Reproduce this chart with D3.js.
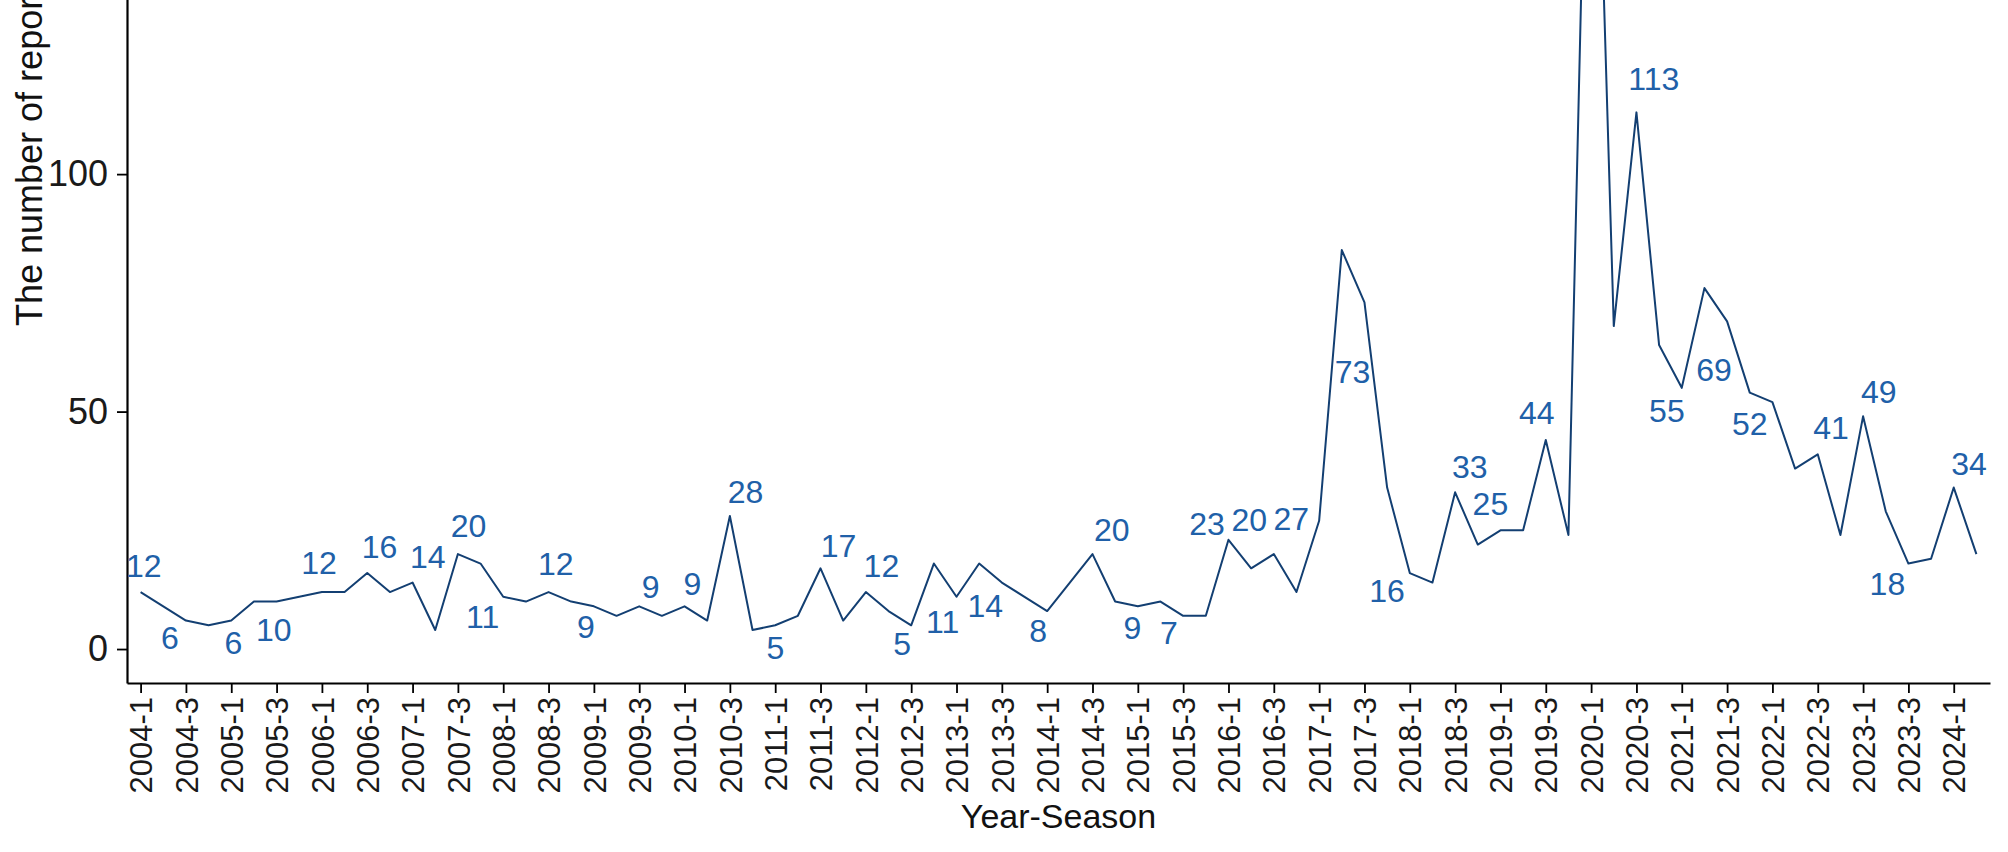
<!DOCTYPE html>
<html lang="en">
<head>
<meta charset="utf-8">
<title>Reports by Year-Season</title>
<script src="https://cdn.jsdelivr.net/npm/d3@7"></script>
<style>
body { margin: 0; background: #fff; }
svg { display: block; font-family: "Liberation Sans", Arial, sans-serif; }
</style>
</head>
<body>
<script>
// year-season categories, 2004-1 .. 2024-2
var categories = [
  "2004-1","2004-2","2004-3","2004-4","2005-1","2005-2","2005-3","2005-4",
  "2006-1","2006-2","2006-3","2006-4","2007-1","2007-2","2007-3","2007-4",
  "2008-1","2008-2","2008-3","2008-4","2009-1","2009-2","2009-3","2009-4",
  "2010-1","2010-2","2010-3","2010-4","2011-1","2011-2","2011-3","2011-4",
  "2012-1","2012-2","2012-3","2012-4","2013-1","2013-2","2013-3","2013-4",
  "2014-1","2014-2","2014-3","2014-4","2015-1","2015-2","2015-3","2015-4",
  "2016-1","2016-2","2016-3","2016-4","2017-1","2017-2","2017-3","2017-4",
  "2018-1","2018-2","2018-3","2018-4","2019-1","2019-2","2019-3","2019-4",
  "2020-1","2020-2","2020-3","2020-4","2021-1","2021-2","2021-3","2021-4",
  "2022-1","2022-2","2022-3","2022-4","2023-1","2023-2","2023-3","2023-4",
  "2024-1","2024-2"
];

// number of reports per season
var reports = [
  12, 9, 6, 5, 6, 10, 10, 11,
  12, 12, 16, 12, 14, 4, 20, 18,
  11, 10, 12, 10, 9, 7, 9, 7,
  9, 6, 28, 4, 5, 7, 17, 6,
  12, 8, 5, 18, 11, 18, 14, 11,
  8, 14, 20, 10, 9, 10, 7, 7,
  23, 17, 20, 12, 27, 84, 73, 34,
  16, 14, 33, 22, 25, 25, 44, 24,
  227, 68, 113, 64, 55, 76, 69, 54,
  52, 38, 41, 24, 49, 29, 18, 19,
  34, 20
];

var tickLabels = [
  "2004-1","2004-3","2005-1","2005-3","2006-1","2006-3","2007-1","2007-3",
  "2008-1","2008-3","2009-1","2009-3","2010-1","2010-3","2011-1","2011-3",
  "2012-1","2012-3","2013-1","2013-3","2014-1","2014-3","2015-1","2015-3",
  "2016-1","2016-3","2017-1","2017-3","2018-1","2018-3","2019-1","2019-3",
  "2020-1","2020-3","2021-1","2021-3","2022-1","2022-3","2023-1","2023-3",
  "2024-1"
];

var yTicks = [0, 50, 100];

var width = 2008, height = 852;
var left = 127, right = 1990, bottom = 683, panelTop = -482;

var svg = d3.select("body").append("svg")
  .attr("width", width)
  .attr("height", height);

svg.append("rect").attr("width", width).attr("height", height).attr("fill", "#fff");

var x = d3.scalePoint()
  .domain(categories)
  .range([left, right])
  .padding(0.6);

var yMin = d3.min(reports), yMax = d3.max(reports), pad = (yMax - yMin) * 0.05;
var y = d3.scaleLinear()
  .domain([yMin - pad, yMax + pad])
  .range([bottom, panelTop]);

// line
var line = d3.line()
  .x(function(d, i) { return x(categories[i]); })
  .y(function(d) { return y(d); });

svg.append("path")
  .datum(reports)
  .attr("d", line)
  .attr("fill", "none")
  .attr("stroke", "#133f72")
  .attr("stroke-width", 2)
  .attr("stroke-linejoin", "round");

// axes
var xAxis = svg.append("g")
  .attr("transform", "translate(0," + bottom + ")")
  .call(d3.axisBottom(x).tickValues(tickLabels).tickSize(10).tickSizeOuter(0));

xAxis.select(".domain").attr("stroke", "#000").attr("stroke-width", 2.2);
xAxis.selectAll(".tick line").attr("stroke", "#000").attr("stroke-width", 1.8);
xAxis.selectAll(".tick text")
  .attr("transform", "rotate(-90)")
  .attr("text-anchor", "end")
  .attr("x", -14)
  .attr("y", 0)
  .attr("dy", "0.36em")
  .attr("font-size", "31px")
  .attr("font-family", "Liberation Sans, Arial, sans-serif")
  .attr("fill", "#1a1a1a");

var yAxis = svg.append("g")
  .attr("transform", "translate(" + left + ",0)")
  .call(d3.axisLeft(y).tickValues(yTicks).tickSize(10).tickPadding(9).tickSizeOuter(0));

yAxis.select(".domain").attr("stroke", "#000").attr("stroke-width", 2.2);
yAxis.selectAll(".tick line").attr("stroke", "#000").attr("stroke-width", 1.8);
yAxis.selectAll(".tick text")
  .attr("font-size", "36px")
  .attr("font-family", "Liberation Sans, Arial, sans-serif")
  .attr("fill", "#1a1a1a");

// titles
svg.append("text")
  .attr("x", (left + right) / 2)
  .attr("y", 828)
  .attr("text-anchor", "middle")
  .attr("font-size", "34px")
  .attr("fill", "#111")
  .text("Year-Season");

svg.append("text")
  .attr("transform", "translate(42,326) rotate(-90)")
  .attr("text-anchor", "start")
  .attr("font-size", "36px")
  .attr("fill", "#111")
  .text("The number of reports");

// value labels on every other season, pushed off the line with a small force layout
var labelNodes = [];
reports.forEach(function(v, i) {
  if (i % 2 !== 0) return;
  var ax = x(categories[i]), ay = y(v);
  if (ay < 20) return; // point is above the visible panel
  var prev = i > 0 ? reports[i - 1] : v - 1;
  var next = i < reports.length - 1 ? reports[i + 1] : v - 1;
  var up = v >= prev && v >= next;
  var dx = up ? 26 : -26, dy = up ? -24 : 24;
  var w = String(v).length * 18;
  labelNodes.push({ text: String(v), ax: ax, ay: ay, x: ax + dx, y: ay + dy, r: Math.max(15, w / 2 + 3) });
});

var obstacles = [];
for (var i = 0; i < reports.length - 1; i++) {
  var x0 = x(categories[i]), y0 = y(reports[i]);
  var x1 = x(categories[i + 1]), y1 = y(reports[i + 1]);
  var len = Math.hypot(x1 - x0, y1 - y0), n = Math.max(1, Math.ceil(len / 5));
  for (var k = 0; k < n; k++) {
    var t = k / n;
    var px = x0 + (x1 - x0) * t, py = y0 + (y1 - y0) * t;
    obstacles.push({ fx: px, fy: py, x: px, y: py, r: 4, fixed: true });
  }
}

var sim = d3.forceSimulation(labelNodes.concat(obstacles))
  .force("collide", d3.forceCollide(function(d) { return d.r; }).iterations(4))
  .force("x", d3.forceX(function(d) { return d.fixed ? d.fx : d.ax; }).strength(function(d) { return d.fixed ? 0 : 0.05; }))
  .force("y", d3.forceY(function(d) { return d.fixed ? d.fy : d.ay; }).strength(function(d) { return d.fixed ? 0 : 0.05; }))
  .stop();
for (var s = 0; s < 300; s++) sim.tick();

svg.append("g").selectAll("text")
  .data(labelNodes)
  .enter()
  .append("text")
  .attr("x", function(d) { return d.x; })
  .attr("y", function(d) { return d.y; })
  .attr("dy", "0.36em")
  .attr("text-anchor", "middle")
  .attr("font-size", "32px")
  .attr("fill", "#2060a8")
  .text(function(d) { return d.text; });
</script>
</body>
</html>
